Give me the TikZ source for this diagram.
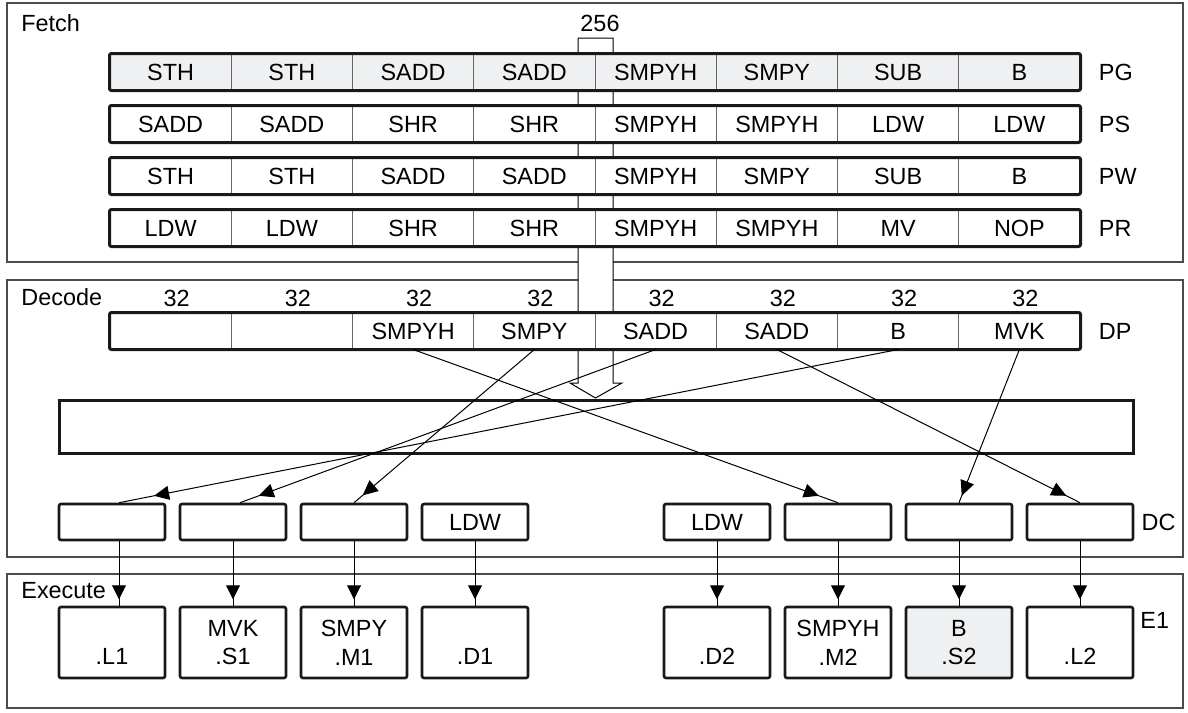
\documentclass[tikz,border=0pt]{standalone}
\usepackage{fontspec}
\setmainfont{Liberation Sans}
\usepackage{tikz}
\usetikzlibrary{arrows.meta, positioning, calc, decorations.markings}
\definecolor{pgfill}{HTML}{EEF0F2}
\tikzstyle{panel} = [draw=black!70, line width=0.7pt]
\tikzstyle{cell} = [rectangle, minimum width=60.625pt, minimum height=18pt, inner sep=0pt, text centered, draw=black!60, line width=0.5pt]
\tikzstyle{rowbox} = [draw=black!90, line width=1.5pt, rounded corners=1pt]
\tikzstyle{lbl} = [anchor=west, inner sep=0pt]
\tikzstyle{dcbox} = [rectangle, rounded corners=1pt, minimum width=53pt, minimum height=18pt, inner sep=0pt, text centered, draw=black!90, line width=1.3pt, fill=white]
\tikzstyle{unit} = [rectangle, rounded corners=1pt, minimum width=53pt, minimum height=35.5pt, inner sep=0pt, align=center, draw=black!90, line width=1.3pt, fill=white]
\tikzstyle{dispatch} = [line width=0.5pt, decoration={markings, mark=at position 0.955 with {\arrow{Triangle[length=7.5pt,width=7pt]}}}, postaction={decorate}]
\tikzstyle{issue} = [line width=0.5pt, decoration={markings, mark=at position 0.9 with {\arrow{Triangle[length=7pt,width=7pt]}}}, postaction={decorate}]

\begin{document}
\begin{tikzpicture}[x=0.5pt, y=-0.5pt, font=\fontsize{11.7}{14.4}\selectfont]
  \useasboundingbox (0,0) rectangle (1188,712);
  % pipeline stages
  \draw[panel] (7,3) rectangle (1183,262);
  \draw[panel] (7,280) rectangle (1183,557);
  \draw[panel] (7,574) rectangle (1183,708);
  \node (fetch) [lbl] at (21,23) {Fetch};
  \node (decode) [lbl] at (21,297) {Decode};
  \node (execute) [lbl] at (21,591) {Execute};

  % fetch packet bus
  \draw[fill=white, line width=0.5pt] (578,38) -- (613,38) -- (613,383) -- (622,383)
    -- (595.5,398) -- (570,383) -- (578,383) -- cycle;
  \node (buswidth) at (600,23) {256};

  % fetch phases
  \foreach \stage/\y/\ops/\shade in {
      PG/72/{STH,STH,SADD,SADD,SMPYH,SMPY,SUB,B}/pgfill,
      PS/124/{SADD,SADD,SHR,SHR,SMPYH,SMPYH,LDW,LDW}/white,
      PW/176/{STH,STH,SADD,SADD,SMPYH,SMPY,SUB,B}/white,
      PR/228/{LDW,LDW,SHR,SHR,SMPYH,SMPYH,MV,NOP}/white} {
    \foreach \op [count=\i] in \ops
      \node (\stage\i) [cell, fill=\shade] at ({110+121.25*(\i-0.5)},\y) {\op};
    \draw[rowbox] (\stage1.north west) rectangle (\stage8.south east);
    \node (\stage) [lbl, right=9pt of \stage8] {\stage};
  }

  % dispatch packet
  \foreach \op [count=\i] in {{},{},SMPYH,SMPY,SADD,SADD,B,MVK} {
    \node (DP\i) [cell, fill=white] at ({110+121.25*(\i-0.5)},331) {\op};
    \node (w\i) at ({116+121.25*(\i-0.5)},298) {32};
  }
  \draw[rowbox] (DP1.north west) rectangle (DP8.south east);
  \node (DP) [lbl, right=9pt of DP8] {DP};

  \node (buffer) [rectangle, draw=black!90, line width=1.5pt, minimum width=537pt, minimum height=26.5pt] at (596,426.5) {};

  % decode slots
  \foreach \i/\x/\op in {1/112/{},2/233/{},3/354/{},4/475/LDW,5/717/LDW,6/838/{},7/959/{},8/1080/{}}
    \node (DC\i) [dcbox] at (\x,522) {\op};
  \node (DC) [lbl, right=3.5pt of DC8] {DC};

  % functional units
  \node (L1) [unit] at (112,642.5) {\phantom{B}\\.L1};
  \node (S1) [unit] at (233,642.5) {MVK\\.S1};
  \node (M1) [unit] at (354,642.5) {SMPY\\.M1};
  \node (D1) [unit] at (475,642.5) {\phantom{B}\\.D1};
  \node (D2) [unit] at (717,642.5) {\phantom{B}\\.D2};
  \node (M2) [unit] at (838,642.5) {SMPYH\\.M2};
  \node (S2) [unit, fill=pgfill] at (959,642.5) {B\\.S2};
  \node (L2) [unit] at (1080,642.5) {\phantom{B}\\.L2};
  \node (E1) [lbl] at (1140,620) {E1};

  \draw[dispatch] (DP3.south) -- (DC6.north);
  \draw[dispatch] (DP4.south) -- (DC3.north);
  \draw[dispatch] (DP5.south) -- ([xshift=3.5pt]DC2.north);
  \draw[dispatch] (DP6.south) -- (DC8.north);
  \draw[dispatch] (DP7.south) -- ([xshift=3.5pt]DC1.north);
  \draw[dispatch] (DP8.south) -- (DC7.north);

  \draw[issue] ([xshift=3.5pt]DC1.south) -- ([xshift=3.5pt]L1.north);
  \foreach \d/\u in {2/S1,3/M1,4/D1,5/D2,6/M2,7/S2,8/L2}
    \draw[issue] (DC\d.south) -- (\u.north);
\end{tikzpicture}
\end{document}
